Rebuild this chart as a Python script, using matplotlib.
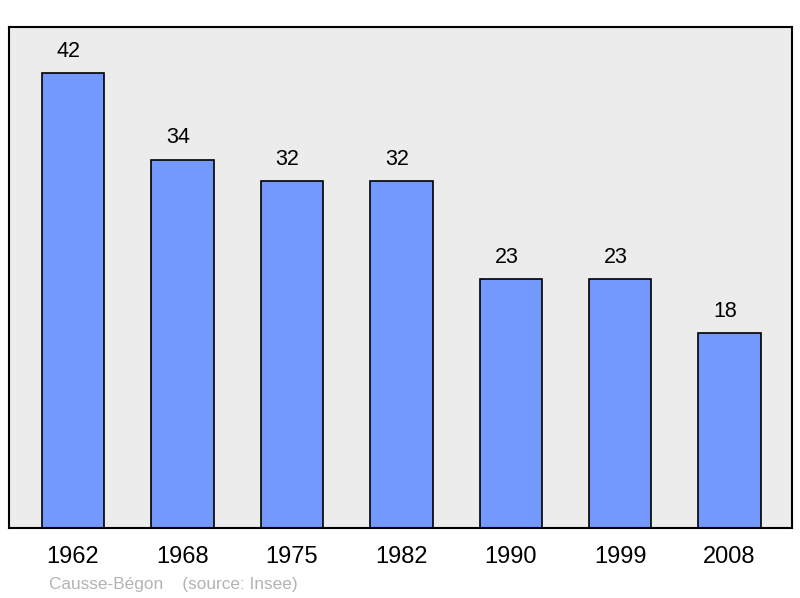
import matplotlib.pyplot as plt

plt.rcParams['font.family'] = ['Liberation Sans', 'DejaVu Sans']

# data
years = ['1962', '1968', '1975', '1982', '1990', '1999', '2008']
population = [42, 34, 32, 32, 23, 23, 18]

fig = plt.figure(figsize=(8, 5.98), dpi=100)
ax = fig.add_axes([9 / 800, 1 - 528 / 598, 783 / 800, 501 / 598])
ax.set_facecolor('#ececec')

x = list(range(len(years)))
bars = ax.bar(x, population, width=0.57, color='#7399ff', edgecolor='black',
              linewidth=1.2, zorder=2)

for xi, v in zip(x, population):
    ax.text(xi - 0.04, v + 1.05, str(v), ha='center', va='bottom', fontsize=15.5)

ax.set_xlim(-0.585, 6.57)
ax.set_ylim(0, 46.26)
ax.set_yticks([])
ax.set_xticks(x)
ax.set_xticklabels(years, fontsize=17)
ax.tick_params(axis='x', length=0, pad=13)
for s in ax.spines.values():
    s.set_linewidth(1.5)

fig.text(49 / 800, 1 - 584 / 598, 'Causse-Bégon    (source: Insee)', fontsize=12.4,
         color='#b3b3b3', va='center', ha='left')

plt.savefig('out.png', dpi=100)
